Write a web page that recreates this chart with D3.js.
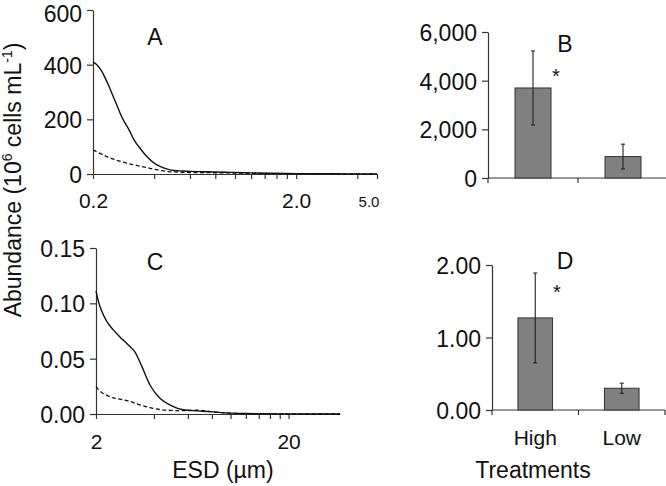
<!DOCTYPE html>
<html><head><meta charset="utf-8">
<script src="https://cdn.jsdelivr.net/npm/d3@7"></script>
<style>
body{margin:0;background:#fff}
text{font-family:"Liberation Sans",Arial,sans-serif;fill:#111}
</style>
</head><body>
<svg id="c" width="666" height="486"></svg>
<script>
// ---------- data ----------
const sizeA = [0.20,0.21,0.22,0.23,0.24,0.25,0.26,0.28,0.30,0.32,0.34,0.37,0.40,0.43,0.47,0.50,0.55,0.60,0.70,0.80,0.90,1.0,1.2,1.5,2.0,3.0,4.0,5.0];
const highA = [409,398,378,350,320,288,258,202,163,122,95,62,40,27,17,13,11,9.5,8.5,7.5,6.5,5.5,4,2.5,1.5,0.8,0.5,0.3];
const lowA  = [88,80,73,66,60,55,51,44,38,33,29,23,17,13,9,7.5,6,5.5,5,4.5,4,3.5,2.5,1.5,1,0.5,0.3,0.2];

const sizeC = [2.0,2.06,2.14,2.27,2.46,2.6,2.7,2.8,3.0,3.19,3.46,3.82,4.31,4.86,5.68,6.7,7.85,9,10,12,15,20,30,37];
const highC = [0.111,0.1015,0.093,0.084,0.076,0.0715,0.0685,0.066,0.061,0.056,0.043,0.026,0.014,0.0081,0.0038,0.0028,0.0021,0.0012,0.0008,0.0004,0.0002,0.0001,0,0];
const lowC  = [0.0247,0.022,0.0195,0.017,0.0145,0.0137,0.0132,0.0127,0.0115,0.0098,0.0078,0.0058,0.004,0.0033,0.003,0.0035,0.0022,0.0012,0.0007,0.0003,0.0001,0,0,0];

const treatments = ["High","Low"];
const meanB = [3700, 880];
const errB  = [1520, 510];
const meanD = [1.27, 0.30];
const errD  = [0.62, 0.07];

const yTicksA = [0,200,400,600];
const xTicksA = [0.2,0.4,0.6,0.8,1.0,1.2,1.4,1.6,1.8,2.0,4.0,5.0];
const xLabelsA = [0.2,2.0];
const yTicksC = [0,0.05,0.10,0.15];
const xTicksC = [2,4,6,8,10,12,14,16,18,20];
const xLabelsC = [2,20];
const yTicksB = [0,2000,4000,6000];
const yTicksD = [0,1,2];

// ---------- drawing ----------
const svg = d3.select("#c");
const INK = "#333";

function styleAxis(g, fs, dy){
  g.select(".domain").attr("stroke", INK).attr("stroke-width", 1.2);
  g.selectAll(".tick line").attr("stroke", INK).attr("stroke-width", 1.2);
  const t = g.selectAll(".tick text").attr("font-size", fs).attr("fill", "#111")
   .attr("font-family", '"Liberation Sans",Arial,sans-serif');
  if (dy) t.attr("dy", dy);
  g.attr("font-size", null).attr("font-family", null);
  return t;
}

const Y_FS = 23, X_FS = 21;

function linePanel(sizes, hi, lo, xs, ys, yt, yfmt, xt, xl, xfmt, xpad){
  const gy = svg.append("g").attr("transform", `translate(${xs.range()[0]},0)`)
    .call(d3.axisLeft(ys).tickValues(yt).tickFormat(yfmt).tickSize(6).tickPadding(5).tickSizeOuter(0));
  const t = styleAxis(gy, Y_FS, "0.37em");
  // keep the topmost label fully inside the picture
  t.filter(d => ys(d) < 12).attr("dy", "0.5em");
  const gx = svg.append("g").attr("transform", `translate(0,${ys.range()[0]})`)
    .call(d3.axisBottom(xs).tickValues(xt).tickSize(5).tickPadding(xpad).tickSizeOuter(0)
      .tickFormat(d => xl.includes(d) ? xfmt(d) : ""));
  styleAxis(gx, X_FS);
  const ln = d3.line().x(d => xs(d[0])).y(d => ys(d[1])).curve(d3.curveMonotoneX);
  svg.append("path").attr("d", ln(d3.zip(sizes, hi))).attr("fill","none")
    .attr("stroke","#111").attr("stroke-width",1.4);
  svg.append("path").attr("d", ln(d3.zip(sizes, lo))).attr("fill","none")
    .attr("stroke","#111").attr("stroke-width",1.3).attr("stroke-dasharray","4,2.5");
}

// Panel A
const xA = d3.scaleLog().domain([0.2,5]).range([93,377]);
const yA = d3.scaleLinear().domain([0,600]).range([174,10]);
linePanel(sizeA, highA, lowA, xA, yA, yTicksA, d3.format("d"), xTicksA, xLabelsA, d => d.toFixed(1), 14);
svg.append("text").attr("x", xA(5.0) - 8).attr("y", 207).attr("text-anchor","middle")
  .attr("font-size", 15).text("5.0");

// Panel C
const xC = d3.scaleLog().domain([2,37]).range([96,340]);
const yC = d3.scaleLinear().domain([0,0.15]).range([414,248]);
linePanel(sizeC, highC, lowC, xC, yC, yTicksC, d3.format(".2f"), xTicksC, xLabelsC, d3.format("d"), 15);

// Bar panels
function barPanel(means, errs, x0, x1, ys, yt, yfmt, labels){
  const xs = d3.scaleBand().domain(treatments).range([x0, x1]).paddingInner(0.6).paddingOuter(0.3);
  const gy = svg.append("g").attr("transform", `translate(${x0},0)`)
    .call(d3.axisLeft(ys).tickValues(yt).tickFormat(yfmt).tickSize(6).tickPadding(5).tickSizeOuter(0));
  styleAxis(gy, Y_FS, "0.37em");
  const yb = ys.range()[0];
  svg.append("line").attr("x1", x0).attr("x2", x1).attr("y1", yb).attr("y2", yb)
    .attr("stroke", INK).attr("stroke-width", 1.2);
  d3.range(treatments.length + 1).forEach(i => {
    const xx = x0 + i * xs.step();
    svg.append("line").attr("x1", xx).attr("x2", xx).attr("y1", yb).attr("y2", yb + 5)
      .attr("stroke", INK).attr("stroke-width", 1.2);
  });
  treatments.forEach((t, i) => {
    svg.append("rect").attr("x", xs(t)).attr("width", xs.bandwidth())
      .attr("y", ys(means[i])).attr("height", yb - ys(means[i]))
      .attr("fill", "#808080").attr("stroke", "#333").attr("stroke-width", 1);
    const cx = xs(t) + xs.bandwidth() / 2;
    const top = ys(means[i] + errs[i]), bot = ys(means[i] - errs[i]);
    svg.append("line").attr("x1", cx).attr("x2", cx).attr("y1", top).attr("y2", bot)
      .attr("stroke", "#222").attr("stroke-width", 1.1);
    [top, bot].forEach(yy => svg.append("line").attr("x1", cx - 2).attr("x2", cx + 2)
      .attr("y1", yy).attr("y2", yy).attr("stroke", "#222").attr("stroke-width", 1.1));
    if (labels) svg.append("text").attr("x", cx).attr("y", yb + 35).attr("text-anchor","middle")
      .attr("font-size", 21).text(t);
  });
  return xs;
}
const yB = d3.scaleLinear().domain([0,6000]).range([178,32]);
barPanel(meanB, errB, 488, 668, yB, yTicksB, d3.format(","), false);
const yD = d3.scaleLinear().domain([0,2]).range([410,265]);
barPanel(meanD, errD, 492, 665, yD, yTicksD, d3.format(".2f"), true);

// asterisks
svg.append("text").attr("x", 556).attr("y", 83).attr("text-anchor","middle").attr("font-size", 20).text("*");
svg.append("text").attr("x", 557).attr("y", 299).attr("text-anchor","middle").attr("font-size", 20).text("*");

// panel letters
[["A",155,45],["B",565,52],["C",155,270],["D",565,269]].forEach(([t,x,y]) =>
  svg.append("text").attr("x", x).attr("y", y).attr("text-anchor","middle").attr("font-size", 23).text(t));

// axis titles
svg.append("text").attr("x", 223).attr("y", 478).attr("text-anchor","middle").attr("font-size", 23).text("ESD (µm)");
svg.append("text").attr("x", 533).attr("y", 478).attr("text-anchor","middle").attr("font-size", 23).text("Treatments");
const yt = svg.append("text").attr("transform", "translate(21,180) rotate(-90)")
  .attr("text-anchor","middle").attr("font-size", 23);
yt.append("tspan").text("Abundance (10");
yt.append("tspan").attr("font-size", 14).attr("dy", -9).text("6");
yt.append("tspan").attr("dy", 9).text(" cells mL");
yt.append("tspan").attr("font-size", 14).attr("dy", -9).text("-1");
yt.append("tspan").attr("dy", 9).text(")");
</script>
</body></html>
